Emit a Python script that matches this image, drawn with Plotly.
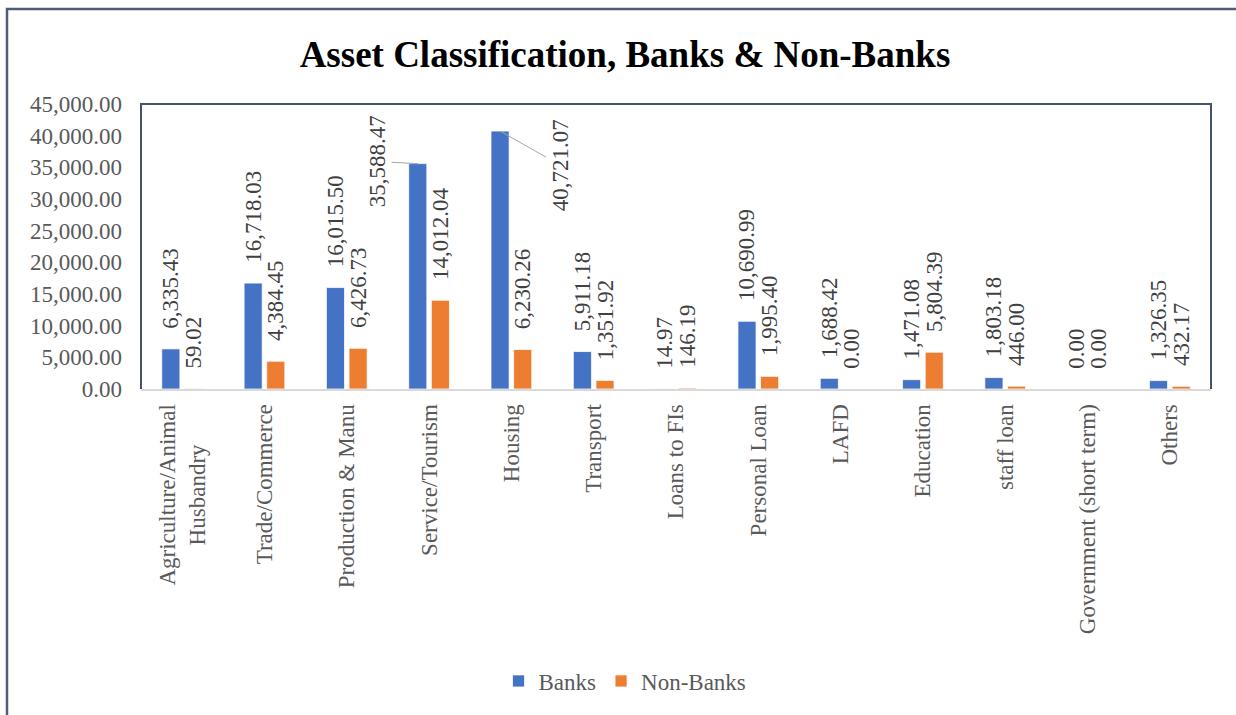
import plotly.graph_objects as go

# Loan portfolio by sector
categories = [
    "Agriculture/Animal<br>Husbandry" + "\u00a0" * 7,
    "Trade/Commerce",
    "Production & Manu",
    "Service/Tourism",
    "Housing",
    "Transport",
    "Loans to FIs",
    "Personal Loan",
    "LAFD",
    "Education",
    "staff loan",
    "Government (short term)",
    "Others",
]
banks = [6335.43, 16718.03, 16015.50, 35588.47, 40721.07, 5911.18, 14.97,
         10690.99, 1688.42, 1471.08, 1803.18, 0.00, 1326.35]
non_banks = [59.02, 4384.45, 6426.73, 14012.04, 6230.26, 1351.92, 146.19,
             1995.40, 0.00, 5804.39, 446.00, 0.00, 432.17]

y_ticks = [0, 5000, 10000, 15000, 20000, 25000, 30000, 35000, 40000, 45000]

FONT = "Liberation Serif, Times New Roman, serif"
BLUE = "#4472C4"
ORANGE = "#ED7D31"
LABEL_GREY = "#404040"
TICK_GREY = "#595959"

# Bank labels that sit beside their bars with a leader line
moved = {3: (-40, -2), 4: (60, 34)}

def fmt(v):
    return f"{v:,.2f}"

# leading spaces lift the rotated labels clear of the bar tops
LIFT = "\u00a0" * 3
bank_text = ["" if i in moved else LIFT + fmt(v) for i, v in enumerate(banks)]
nonbank_text = [LIFT + fmt(v) for v in non_banks]

fig = go.Figure()
fig.add_trace(go.Bar(
    name="Banks", x=categories, y=banks, marker_color=BLUE,
    marker_line=dict(color="white", width=0.75),
    text=bank_text, textposition="outside", textangle=-90,
    textfont=dict(family=FONT, size=23, color=LABEL_GREY),
    constraintext="none", cliponaxis=False,
))
fig.add_trace(go.Bar(
    name="Non-Banks", x=categories, y=non_banks, marker_color=ORANGE,
    marker_line=dict(color="white", width=0.75),
    text=nonbank_text, textposition="outside", textangle=-90,
    textfont=dict(family=FONT, size=23, color=LABEL_GREY),
    constraintext="none", cliponaxis=False,
))

bargap = 0.45
bank_offset = -(1 - bargap) / 4
annotations = []
for i, (ax, ay) in moved.items():
    annotations.append(dict(
        x=i + bank_offset, y=banks[i], xref="x", yref="y",
        text=fmt(banks[i]), textangle=-90,
        font=dict(family=FONT, size=23, color=LABEL_GREY),
        showarrow=True, arrowhead=0, arrowwidth=1, arrowcolor="#A6A6A6",
        ax=ax, ay=ay, standoff=0,
    ))

W, H = 1236, 715
L, R, T, B = 141, 25, 104, 326
pw, ph = W - L - R, H - T - B

def px_x(p):
    return (p - L) / pw

def px_y(p):
    return (H - B - p) / ph

shapes = [
    # plot area frame (left, top, right)
    dict(type="path", xref="paper", yref="paper",
         path="M 0,0 L 0,1 L 1,1 L 1,0",
         line=dict(color="#44546A", width=2)),
    # outer chart frame
    dict(type="rect", xref="paper", yref="paper",
         x0=px_x(7), x1=px_x(1245), y0=px_y(725), y1=px_y(9),
         line=dict(color="#4E5D78", width=2.5)),
]

fig.update_layout(
    width=W, height=H,
    margin=dict(l=L, r=R, t=T, b=B),
    paper_bgcolor="white", plot_bgcolor="white",
    barmode="group", bargap=bargap, bargroupgap=0.2,
    title=dict(text="<b>Asset Classification, Banks & Non-Banks</b>",
               x=625 / W, xref="container", xanchor="center",
               y=1 - 54 / H, yref="container", yanchor="middle",
               font=dict(family=FONT, size=37, color="black")),
    font=dict(family=FONT, size=23, color=TICK_GREY),
    showlegend=True,
    legend=dict(orientation="h", x=px_x(625), xanchor="center",
                y=px_y(681), yanchor="middle",
                font=dict(family=FONT, size=23, color=TICK_GREY),
                itemwidth=30, tracegroupgap=0),
    annotations=annotations,
    shapes=shapes,
)
fig.update_xaxes(
    tickangle=-90, showline=True, linecolor="#D9D9D9", linewidth=2,
    ticks="", showgrid=False, ticklabelstandoff=4,
    tickfont=dict(family=FONT, size=23, color=TICK_GREY),
)
fig.update_yaxes(
    range=[0, 45000], tickvals=y_ticks, tickformat=",.2f",
    showgrid=False, zeroline=False, showline=False, ticks="",
    ticklabelstandoff=18,
    tickfont=dict(family=FONT, size=23, color=TICK_GREY),
)

fig.write_html("out.html")
